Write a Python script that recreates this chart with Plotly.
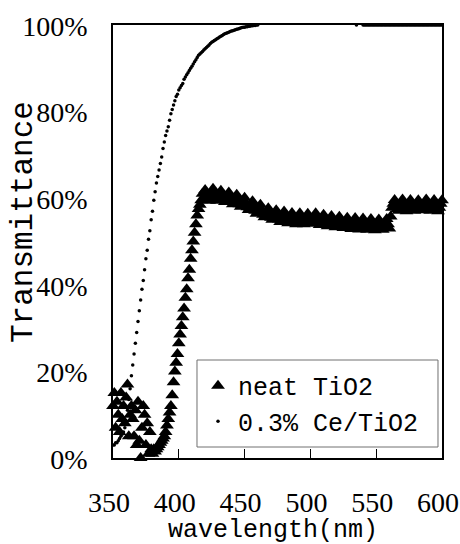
import plotly.graph_objects as go

# ---- data -------------------------------------------------------------
wavelength = list(range(350, 601))

neat_tio2 = [
    12, 15, 7, 13, 10, 6, 15, 9, 12, 8,
    14, 17, 5, 10, 12, 9, 5, 11, 3, 13,
    4, 0, 7, 12, 10, 3, 8, 1, 6, 2,
    1, 2, 1.5, 2, 2.5, 3, 3.5, 4, 4.5, 5,
    6, 7.5, 9, 10.5, 12, 14.5, 17.5, 20, 22, 24,
    26.5, 28.5, 30.5, 32.5, 34.5, 37, 39, 41.5, 43.5, 46,
    48, 50, 52, 54, 56, 57.5, 58.5, 59.5, 61, 60,
    61.9, 60.8, 59.9, 59.4, 60.0, 61.0, 62.2, 60.8, 59.9, 59.4,
    59.9, 60.9, 61.7, 60.6, 59.6, 59.1, 59.6, 60.5, 61.3, 60.2,
    59.2, 58.6, 59.1, 60.0, 60.8, 59.6, 58.6, 58.0, 58.5, 59.4,
    60.1, 58.9, 57.9, 57.3, 57.7, 58.6, 59.3, 58.1, 57.1, 56.4,
    56.9, 57.7, 58.5, 57.2, 56.2, 55.6, 56.0, 56.9, 57.7, 56.5,
    55.5, 55.0, 55.5, 56.4, 57.2, 56.0, 55.1, 54.5, 55.1, 56.0,
    56.9, 55.7, 54.8, 54.2, 54.8, 55.7, 56.6, 55.5, 54.5, 54.0,
    54.6, 55.6, 56.5, 55.4, 54.5, 54.0, 54.6, 55.6, 56.4, 55.3,
    54.5, 54.1, 54.6, 55.6, 56.5, 55.4, 54.4, 53.8, 54.4, 55.3,
    56.2, 55.0, 54.1, 53.5, 54.1, 55.1, 55.9, 54.8, 53.8, 53.3,
    53.9, 54.8, 55.7, 54.6, 53.6, 53.1, 53.7, 54.6, 55.5, 54.4,
    53.5, 52.9, 53.5, 54.5, 55.4, 54.2, 53.3, 52.8, 53.4, 54.4,
    55.3, 54.1, 53.2, 52.7, 53.3, 54.3, 55.2, 54.1, 53.2, 52.6,
    53.3, 54.3, 55.1, 54.1, 53.2, 52.7, 53.4, 54.3, 55.2, 54.0,
    53.0, 55.8, 57.8, 58.7, 59.6, 58.5, 57.5, 57.1, 57.8, 58.8,
    59.7, 58.4, 57.6, 57.0, 57.7, 58.7, 59.6, 58.6, 57.5, 57.1,
    57.8, 58.7, 59.5, 58.5, 57.6, 57.2, 57.7, 58.8, 59.7, 58.4,
    57.6, 57.1, 57.7, 58.6, 59.6, 58.5, 57.6, 57.0, 57.8, 58.7,
    59.5,
]

ce_tio2 = [
    3, 3, 3.5, 3.5, 4, 4.5, 5, 5.5, 6, 7,
    8.5, 11, 13.5, 16, 19, 21.5, 24, 26.5, 29, 31.5,
    34, 36.5, 39, 41, 43.5, 46, 48, 50.5, 52.5, 55,
    57, 59.5, 61.5, 63.5, 65, 66.5, 68, 69.5, 71.5, 73,
    74.5, 75.5, 76.5, 78, 79.5, 80.5, 81.5, 82.5, 83.5, 84,
    85, 85.5, 86, 86.5, 87.5, 88, 88.5, 89, 89.5, 90,
    90.5, 91, 91.5, 92, 92.5, 93, 93.3, 93.6, 93.9, 94.2,
    94.5, 94.8, 95.1, 95.4, 95.7, 96, 96.2, 96.4, 96.6, 96.8,
    97, 97.2, 97.4, 97.6, 97.8, 98, 98.1, 98.2, 98.3, 98.5,
    98.6, 98.7, 98.8, 98.9, 99, 99.1, 99.2, 99.3, 99.4, 99.5,
    99.5, 99.6, 99.6, 99.7, 99.7, 99.8, 99.8, 99.9, 99.9, 100,
    100, 100.1, 100.2, 100.2, 100.3, 100.3, 100.4, 100.4, 100.5, 100.5,
    100.5, 100.6, 100.6, 100.6, 100.7, 100.7, 100.7, 100.7, 100.8, 100.8,
    100.8, 100.8, 100.8, 100.8, 100.8, 100.8, 100.8, 100.8, 100.7, 100.7,
    100.7, 100.7, 100.6, 100.6, 100.6, 100.5, 100.5, 100.5, 100.4, 100.4,
    100.4, 100.3, 100.3, 100.3, 100.3, 100.2, 100.2, 100.2, 100.2, 100.2,
    100.2, 100.1, 100.1, 100.1, 100.2, 100.1, 100.1, 100.1, 100.1, 100.1,
    100.1, 100.1, 100.1, 100.1, 100.1, 100.1, 100.1, 100.1, 100.1, 100.1,
    100.1, 100.1, 100.1, 100.1, 100.1, 100, 100.1, 100.1, 100.1, 100.1,
    100, 100, 100, 100, 100, 100, 100, 100, 100, 100,
    100, 100, 100, 100, 100, 100, 100, 100, 100, 100,
    100, 100, 100, 100, 100, 100, 100, 100, 100, 100,
    100, 100, 100, 100, 100, 100, 100, 100, 100, 100,
    100, 100, 100, 100, 100, 100, 100, 100, 100, 100,
    100, 100, 100, 100, 100, 100, 100, 100, 100, 100,
    100,
]

x_ticks = [350, 400, 450, 500, 550, 600]
y_ticks = [0, 20, 40, 60, 80, 100]
y_tick_labels = ["0%", "20%", "40%", "60%", "80%", "100%"]
series_names = ["neat TiO2", "0.3% Ce/TiO2"]
x_title = "wavelength(nm)"
y_title = "Transmittance"

Y_MAX = 100
# points above the axis maximum are not drawn (as in the source chart)
ce_shown = [v if v <= Y_MAX else None for v in ce_tio2]

MONO = "Liberation Mono, monospace"
SERIF = "Liberation Serif, Times New Roman, serif"

fig = go.Figure()
fig.add_trace(go.Scatter(
    x=wavelength, y=neat_tio2, mode="markers", name=series_names[0],
    marker=dict(symbol="triangle-up", size=12, color="black", line=dict(width=0)),
    cliponaxis=False,
))
fig.add_trace(go.Scatter(
    x=wavelength, y=ce_shown, mode="markers", name=series_names[1],
    marker=dict(symbol="circle", size=3.5, color="black", line=dict(width=0)),
    cliponaxis=False,
))

fig.update_layout(
    width=460, height=544,
    margin=dict(l=113, r=18, t=25, b=86, autoexpand=False),
    plot_bgcolor="white", paper_bgcolor="white",
    showlegend=True,
    legend=dict(
        x=0.2584, y=0.2194, xanchor="left", yanchor="top",
        borderwidth=0, bgcolor="rgba(0,0,0,0)",
        font=dict(family=MONO, size=25, color="black"),
        itemsizing="trace",
    ),
    shapes=[
        dict(type="rect", xref="paper", yref="paper",
             x0=0.2553, x1=0.9878, y0=0.0254, y1=0.2263,
             line=dict(color="#707070", width=1), fillcolor="white", layer="above"),
    ],
    annotations=[
        dict(text=x_title, x=0.4878, y=-0.1663, xref="paper", yref="paper",
             showarrow=False, xanchor="center", yanchor="middle",
             font=dict(family=MONO, size=25, color="black")),
        dict(text=y_title, x=-0.2736, y=0.545, xref="paper", yref="paper",
             showarrow=False, xanchor="center", yanchor="middle", textangle=-90,
             font=dict(family=MONO, size=31, color="black")),
    ],
)
fig.update_xaxes(
    range=[350, 600], tickvals=x_ticks, ticks="inside", ticklen=9, tickwidth=1,
    tickcolor="black", showline=True, linecolor="black", linewidth=1.5, mirror=True,
    showgrid=False, zeroline=False, automargin=False,
    tickfont=dict(family=SERIF, size=28, color="black"),
    ticklabelstandoff=19, ticklabelshift=-4,
)
fig.update_yaxes(
    range=[0, Y_MAX], tickvals=y_ticks, ticktext=y_tick_labels, ticks="",
    showline=True, linecolor="black", linewidth=1.5, mirror=True,
    showgrid=False, zeroline=False, automargin=False,
    tickfont=dict(family=SERIF, size=28, color="black"),
    ticklabelstandoff=18, ticklabelshift=1,
)

# remove the browser's default 8px page margin so the figure fills the window
fig.write_html(
    "out.html",
    config={"displayModeBar": False},
    post_script="document.body.style.margin='0px';",
)
